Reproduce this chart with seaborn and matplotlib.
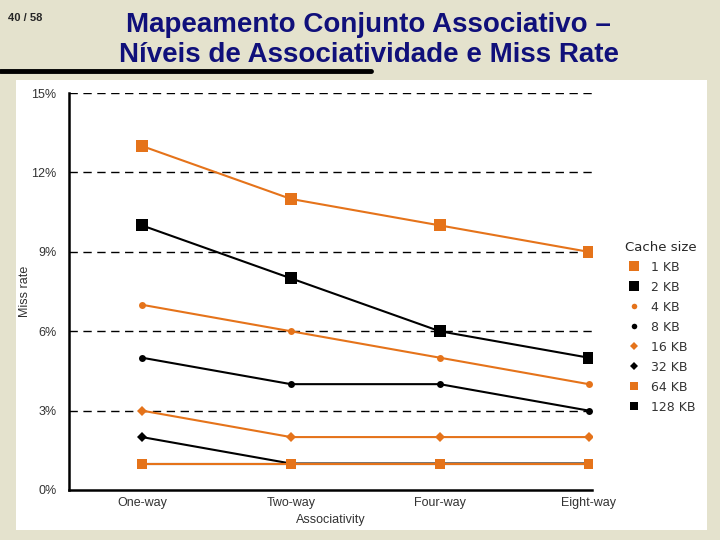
import matplotlib
matplotlib.use("Agg")
import matplotlib.pyplot as plt
from matplotlib.lines import Line2D
from matplotlib.patches import Rectangle
import seaborn as sns
import pandas as pd

categories = ["One-way", "Two-way", "Four-way", "Eight-way"]
sizes = ["1 KB", "2 KB", "4 KB", "8 KB", "16 KB", "32 KB", "64 KB", "128 KB"]
miss_1kb = [13, 11, 10, 9]
miss_2kb = [10, 8, 6, 5]
miss_4kb = [7, 6, 5, 4]
miss_8kb = [5, 4, 4, 3]
miss_16kb = [3, 2, 2, 2]
miss_32kb = [2, 1, 1, 1]
miss_64kb = [1, 1, 1, 1]
miss_128kb = [1, 1, 1, 1]
yticks = [0, 3, 6, 9, 12, 15]

series = [miss_1kb, miss_2kb, miss_4kb, miss_8kb, miss_16kb, miss_32kb, miss_64kb, miss_128kb]
rows = []
for s, vals in zip(sizes, series):
    for c, v in zip(categories, vals):
        rows.append({"Associativity": c, "Miss rate": v, "Cache size": s})
df = pd.DataFrame(rows)

orange = "#e5731a"
palette = {s: (orange if i % 2 == 0 else "black") for i, s in enumerate(sizes)}
markers = {"1 KB": "s", "2 KB": "s", "4 KB": "o", "8 KB": "o",
           "16 KB": "D", "32 KB": "D", "64 KB": "s", "128 KB": "s"}
msizes = {"1 KB": 9, "2 KB": 9, "4 KB": 5, "8 KB": 5,
          "16 KB": 5, "32 KB": 5, "64 KB": 7, "128 KB": 7}

sns.set_style("white")
plt.rcParams["font.family"] = ["Liberation Sans", "DejaVu Sans"]

fig = plt.figure(figsize=(7.2, 5.4), dpi=100)
fig.patch.set_facecolor("#e4e2cd")
panel = Rectangle((0.022, 0.0185), 0.96, 0.833, transform=fig.transFigure,
                  facecolor="white", edgecolor="none", zorder=-5)
fig.patches.append(panel)
ax = fig.add_axes([0.0958, 0.0926, 0.726, 0.735])
ax.set_facecolor("none")

sns.lineplot(data=df, x="Associativity", y="Miss rate", hue="Cache size", style="Cache size",
             hue_order=sizes, style_order=sizes, palette=palette, markers=markers,
             dashes=False, linewidth=1.5, markeredgewidth=0, ax=ax, legend=False, sort=False)

for line, s in zip(ax.get_lines(), sizes):
    line.set_markersize(msizes[s])
    if s == "64 KB":
        line.set_zorder(5)

ax.set_xlim(-0.49, 3.02)
ax.set_ylim(0, 15)
ax.set_yticks(yticks)
ax.set_yticklabels([f"{v}%" for v in yticks])
for v in yticks[1:]:
    ax.axhline(v, color="black", lw=1, ls=(0, (6, 4)), zorder=1)

for sp in ["top", "right"]:
    ax.spines[sp].set_visible(False)
for sp in ["left", "bottom"]:
    ax.spines[sp].set_color("black")
    ax.spines[sp].set_linewidth(1.8)

ax.tick_params(axis="x", direction="in", length=6, width=1, colors="black",
               labelcolor="#333333", labelsize=9, pad=5)
ax.tick_params(axis="y", length=0, labelcolor="#333333", labelsize=9, pad=9)
ax.set_xlabel("Associativity", color="#333333", fontsize=9, labelpad=4)
ax.set_ylabel("Miss rate", color="#333333", fontsize=9, labelpad=0)
ax.yaxis.set_label_coords(-0.072, 0.5)

handles = [Line2D([], [], ls="none", marker=markers[s], color=palette[s],
                  markersize=msizes[s] * 0.8, markeredgewidth=0) for s in sizes]
leg = fig.legend(handles, sizes, title="Cache size", loc="upper left",
                 bbox_to_anchor=(0.853, 0.575), frameon=False,
                 handlelength=1.2, handletextpad=0.8, labelspacing=0.56,
                 prop={"size": 9, "family": "DejaVu Sans"},
                 title_fontproperties={"size": 9.5, "family": "DejaVu Sans"})
for t in leg.get_texts():
    t.set_color("#333333")

fig.text(0.011, 0.967, "40 / 58", fontsize=8, fontweight="bold", ha="left", va="center")
fig.text(0.512, 0.925, "Mapeamento Conjunto Associativo –\nNíveis de Associatividade e Miss Rate",
         ha="center", va="center", fontsize=20, fontweight="bold", color="#10107a",
         family=["Liberation Sans Narrow", "Liberation Sans"], linespacing=1.2)
fig.lines.append(Line2D([0, 0.515], [0.868, 0.868], transform=fig.transFigure,
                        color="black", lw=3.5))

fig.savefig("out.png", dpi=100, facecolor=fig.get_facecolor())
